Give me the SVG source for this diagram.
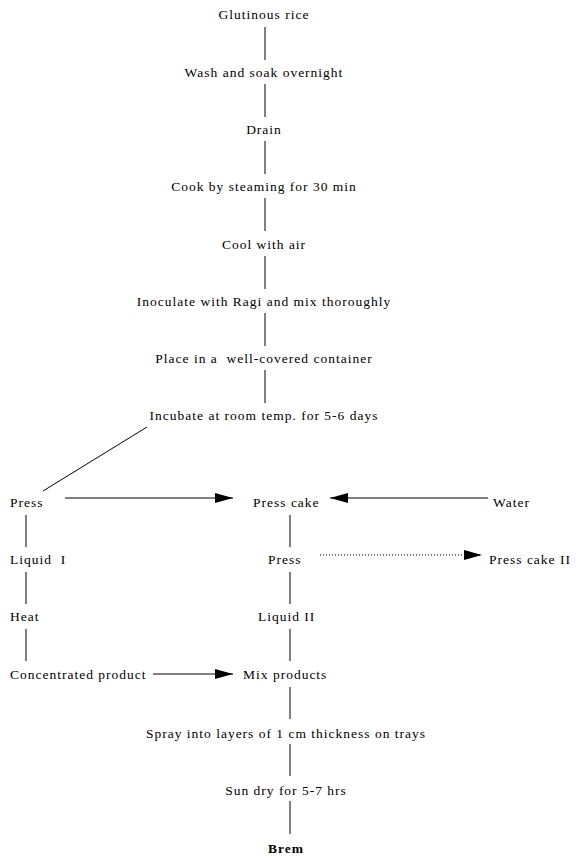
<svg xmlns="http://www.w3.org/2000/svg" width="582" height="865" viewBox="0 0 582 865">
<defs>
<style>
text{font-family:"Liberation Serif","Times New Roman",serif;font-size:13.5px;letter-spacing:1px;fill:#000;white-space:pre}
.c{text-anchor:middle}
.b{font-weight:bold}
line{stroke:#000;stroke-width:1}
.dot{stroke-dasharray:1 2}
</style>
<marker id="ah" markerUnits="userSpaceOnUse" markerWidth="20" markerHeight="12" refX="18" refY="5" orient="auto">
<path d="M0,0 L18,5 L0,10 Z" fill="#000"/>
</marker>
</defs>
<rect width="582" height="865" fill="#fff"/>
<g id="connectors">
<line x1="265" y1="27" x2="265" y2="60"/>
<line x1="265" y1="84" x2="265" y2="117"/>
<line x1="265" y1="141" x2="265" y2="174"/>
<line x1="265" y1="198" x2="265" y2="231"/>
<line x1="265" y1="256" x2="265" y2="289"/>
<line x1="265" y1="313" x2="265" y2="346"/>
<line x1="265" y1="370" x2="265" y2="403"/>
<line x1="147" y1="427" x2="43" y2="491"/>
<line x1="65" y1="498" x2="233" y2="498" marker-end="url(#ah)"/>
<line x1="488" y1="498" x2="330" y2="498" marker-end="url(#ah)"/>
<line x1="26" y1="515" x2="26" y2="547"/>
<line x1="26" y1="572" x2="26" y2="604"/>
<line x1="26" y1="629" x2="26" y2="661"/>
<line x1="290" y1="515" x2="290" y2="547"/>
<line x1="320" y1="555" x2="482" y2="555" class="dot" marker-end="url(#ah)"/>
<line x1="290" y1="572" x2="290" y2="604"/>
<line x1="290" y1="629" x2="290" y2="661"/>
<line x1="153" y1="674" x2="233" y2="674" marker-end="url(#ah)"/>
<line x1="290" y1="687" x2="290" y2="719"/>
<line x1="290" y1="744" x2="290" y2="776"/>
<line x1="290" y1="801" x2="290" y2="834"/>
</g>
<g id="n1"><text class="c" x="264" y="19">Glutinous rice</text></g>
<g id="n2"><text class="c" x="264" y="77">Wash and soak overnight</text></g>
<g id="n3"><text class="c" x="264" y="134">Drain</text></g>
<g id="n4"><text class="c" x="264" y="191">Cook by steaming for 30 min</text></g>
<g id="n5"><text class="c" x="264" y="249">Cool with air</text></g>
<g id="n6"><text class="c" x="264" y="306">Inoculate with Ragi and mix thoroughly</text></g>
<g id="n7"><text class="c" x="264" y="363" xml:space="preserve">Place in a  well-covered container</text></g>
<g id="n8"><text class="c" x="264" y="420">Incubate at room temp. for 5-6 days</text></g>
<g id="n9"><text x="10" y="507">Press</text></g>
<g id="n10"><text x="253" y="507">Press cake</text></g>
<g id="n11"><text x="493" y="507">Water</text></g>
<g id="n12"><text x="10" y="564" xml:space="preserve">Liquid  I</text></g>
<g id="n13"><text x="268" y="564">Press</text></g>
<g id="n14"><text x="489" y="564">Press cake II</text></g>
<g id="n15"><text x="10" y="621">Heat</text></g>
<g id="n16"><text x="258" y="621">Liquid II</text></g>
<g id="n17"><text x="10" y="679">Concentrated product</text></g>
<g id="n18"><text x="243" y="679">Mix products</text></g>
<g id="n19"><text class="c" x="286" y="738">Spray into layers of 1 cm thickness on trays</text></g>
<g id="n20"><text class="c" x="286" y="795">Sun dry for 5-7 hrs</text></g>
<g id="n21"><text class="c b" x="286" y="853">Brem</text></g>
</svg>
